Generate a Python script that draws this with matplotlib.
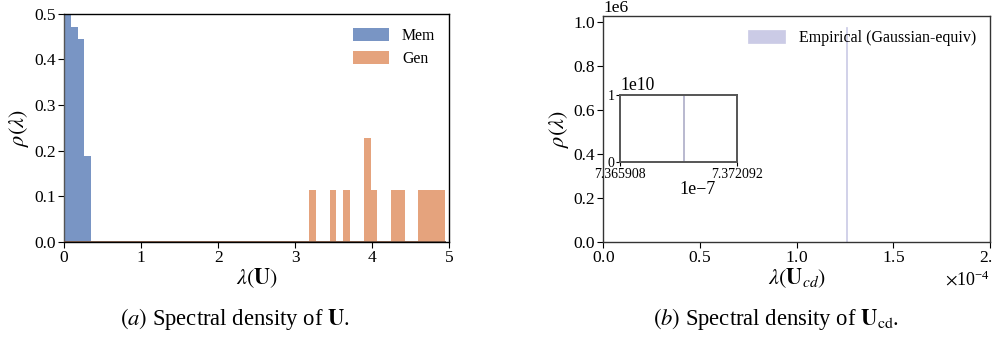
import numpy as np
import matplotlib
matplotlib.use("Agg")
import matplotlib.pyplot as plt
from matplotlib.ticker import ScalarFormatter

plt.rcParams['font.family'] = ['Liberation Serif', 'DejaVu Serif']
plt.rcParams['mathtext.fontset'] = 'stix'

# left panel: shared histogram bins, densities of the non-empty bins
n_bins = 56
lam_max = 4.95
mem_bins = [0, 1, 2, 3]
mem_density = [0.52, 0.47, 0.444, 0.189]
gen_bins = [36, 39, 41, 44, 45, 48, 49, 52, 53, 54, 55]
gen_density = [0.114, 0.114, 0.114, 0.228, 0.114, 0.114, 0.114, 0.114, 0.114, 0.114, 0.114]

# right panel: empirical spectrum collapses to a single eigenvalue
emp_lambda = [1.259e-4]
emp_density = [0.98e6]
inset_lambda = [7.36926e-7]
inset_density = [1.2e10]
inset_xlim = (7.365908e-7, 7.372092e-7)
inset_xlabels = ['7.365908', '7.372092']

blue = '#4c72b0'
orange = '#dd8452'
lav = '#cbcbe6'
TICK = 12.5
LAB = 16

edges = np.linspace(0, lam_max, n_bins + 1)
mem_full = np.zeros(n_bins)
mem_full[mem_bins] = mem_density
gen_full = np.zeros(n_bins)
gen_full[gen_bins] = gen_density

fig = plt.figure(figsize=(9.93, 3.38), dpi=100)

# ---- (a)
ax = fig.add_axes([0.0645, 0.284, 0.388, 0.676])
ax.hist(edges[:-1], bins=edges, weights=mem_full, color=blue, alpha=0.75, label='Mem')
ax.hist(edges[:-1], bins=edges, weights=gen_full, color=orange, alpha=0.75, label='Gen')
ax.axhline(0, xmax=lam_max / 5, color='#6e5040', lw=1.4, zorder=3)
ax.set_xlim(0, 5)
ax.set_ylim(0, 0.5)
ax.set_xticks([0, 1, 2, 3, 4, 5])
ax.set_yticks([0, 0.1, 0.2, 0.3, 0.4, 0.5])
ax.tick_params(labelsize=TICK, length=4, width=0.8, pad=2)
ax.set_xlabel(r'$\lambda(\mathbf{U})$', fontsize=LAB, labelpad=0)
ax.set_ylabel(r'$\rho(\lambda)$', fontsize=LAB, labelpad=2)
for s in ax.spines.values():
    s.set_linewidth(1.0)
ax.spines['left'].set_color('#555555')
ax.legend(loc='upper right', frameon=False, fontsize=11.3, borderaxespad=0.5,
          handlelength=2.3, handleheight=0.9, labelspacing=0.45)

# ---- (b)
bx = fig.add_axes([0.6076, 0.284, 0.3894, 0.6687])
bx.bar(emp_lambda, emp_density, width=7e-7, color=lav, edgecolor=lav, lw=0.5,
       label='Empirical (Gaussian-equiv)')
bx.set_xlim(0, 2e-4)
bx.set_xticks([0, 0.5e-4, 1.0e-4, 1.5e-4, 2.0e-4])
bx.set_yticks([0, 0.2e6, 0.4e6, 0.6e6, 0.8e6, 1.0e6])
fmt = ScalarFormatter(useMathText=True)
fmt.set_powerlimits((-3, 3))
bx.xaxis.set_major_formatter(fmt)
bx.tick_params(labelsize=TICK, length=4, width=0.8, pad=2)
bx.xaxis.get_offset_text().set_fontsize(13)
bx.yaxis.get_offset_text().set_fontsize(TICK)
bx.set_xlabel(r'$\lambda(\mathbf{U}_{cd})$', fontsize=LAB, labelpad=0)
bx.set_ylabel(r'$\rho(\lambda)$', fontsize=LAB, labelpad=2)
for s in bx.spines.values():
    s.set_linewidth(1.0)
    s.set_color('#333333')
bx.legend(loc='upper right', frameon=False, fontsize=11.5, borderaxespad=0.45,
          handlelength=2.3, handleheight=0.9, handletextpad=0.9)

# inset
ix = fig.add_axes([0.6244, 0.5198, 0.1175, 0.199])
ix.bar(inset_lambda, inset_density, width=4e-12, color='#b4b4cc', edgecolor='#b4b4cc', lw=0.6)
ix.set_xlim(*inset_xlim)
ix.set_ylim(0, 1e10)
ix.set_xticks(list(inset_xlim))
ix.set_xticklabels(inset_xlabels)
ix.set_yticks([0, 1e10])
ix.set_yticklabels(['0', '1'])
ix.tick_params(labelsize=10, length=3, width=0.8, pad=1)
for s in ix.spines.values():
    s.set_linewidth(1.4)
    s.set_color('#555555')
fig.text(0.6244, 0.722, '1e10', fontsize=12.7, ha='left', va='bottom')
fig.text(0.702, 0.44, '1e\u22127', fontsize=13, ha='center', va='center')

# captions
fig.text(0.237, 0.038, r'$\mathit{(a)}$ Spectral density of $\mathbf{U}$.',
         fontsize=16.3, ha='center', va='baseline')
fig.text(0.782, 0.038, r'$\mathit{(b)}$ Spectral density of $\mathbf{U}_{\mathrm{cd}}$.',
         fontsize=16.3, ha='center', va='baseline')

fig.savefig('out.png', dpi=100)
